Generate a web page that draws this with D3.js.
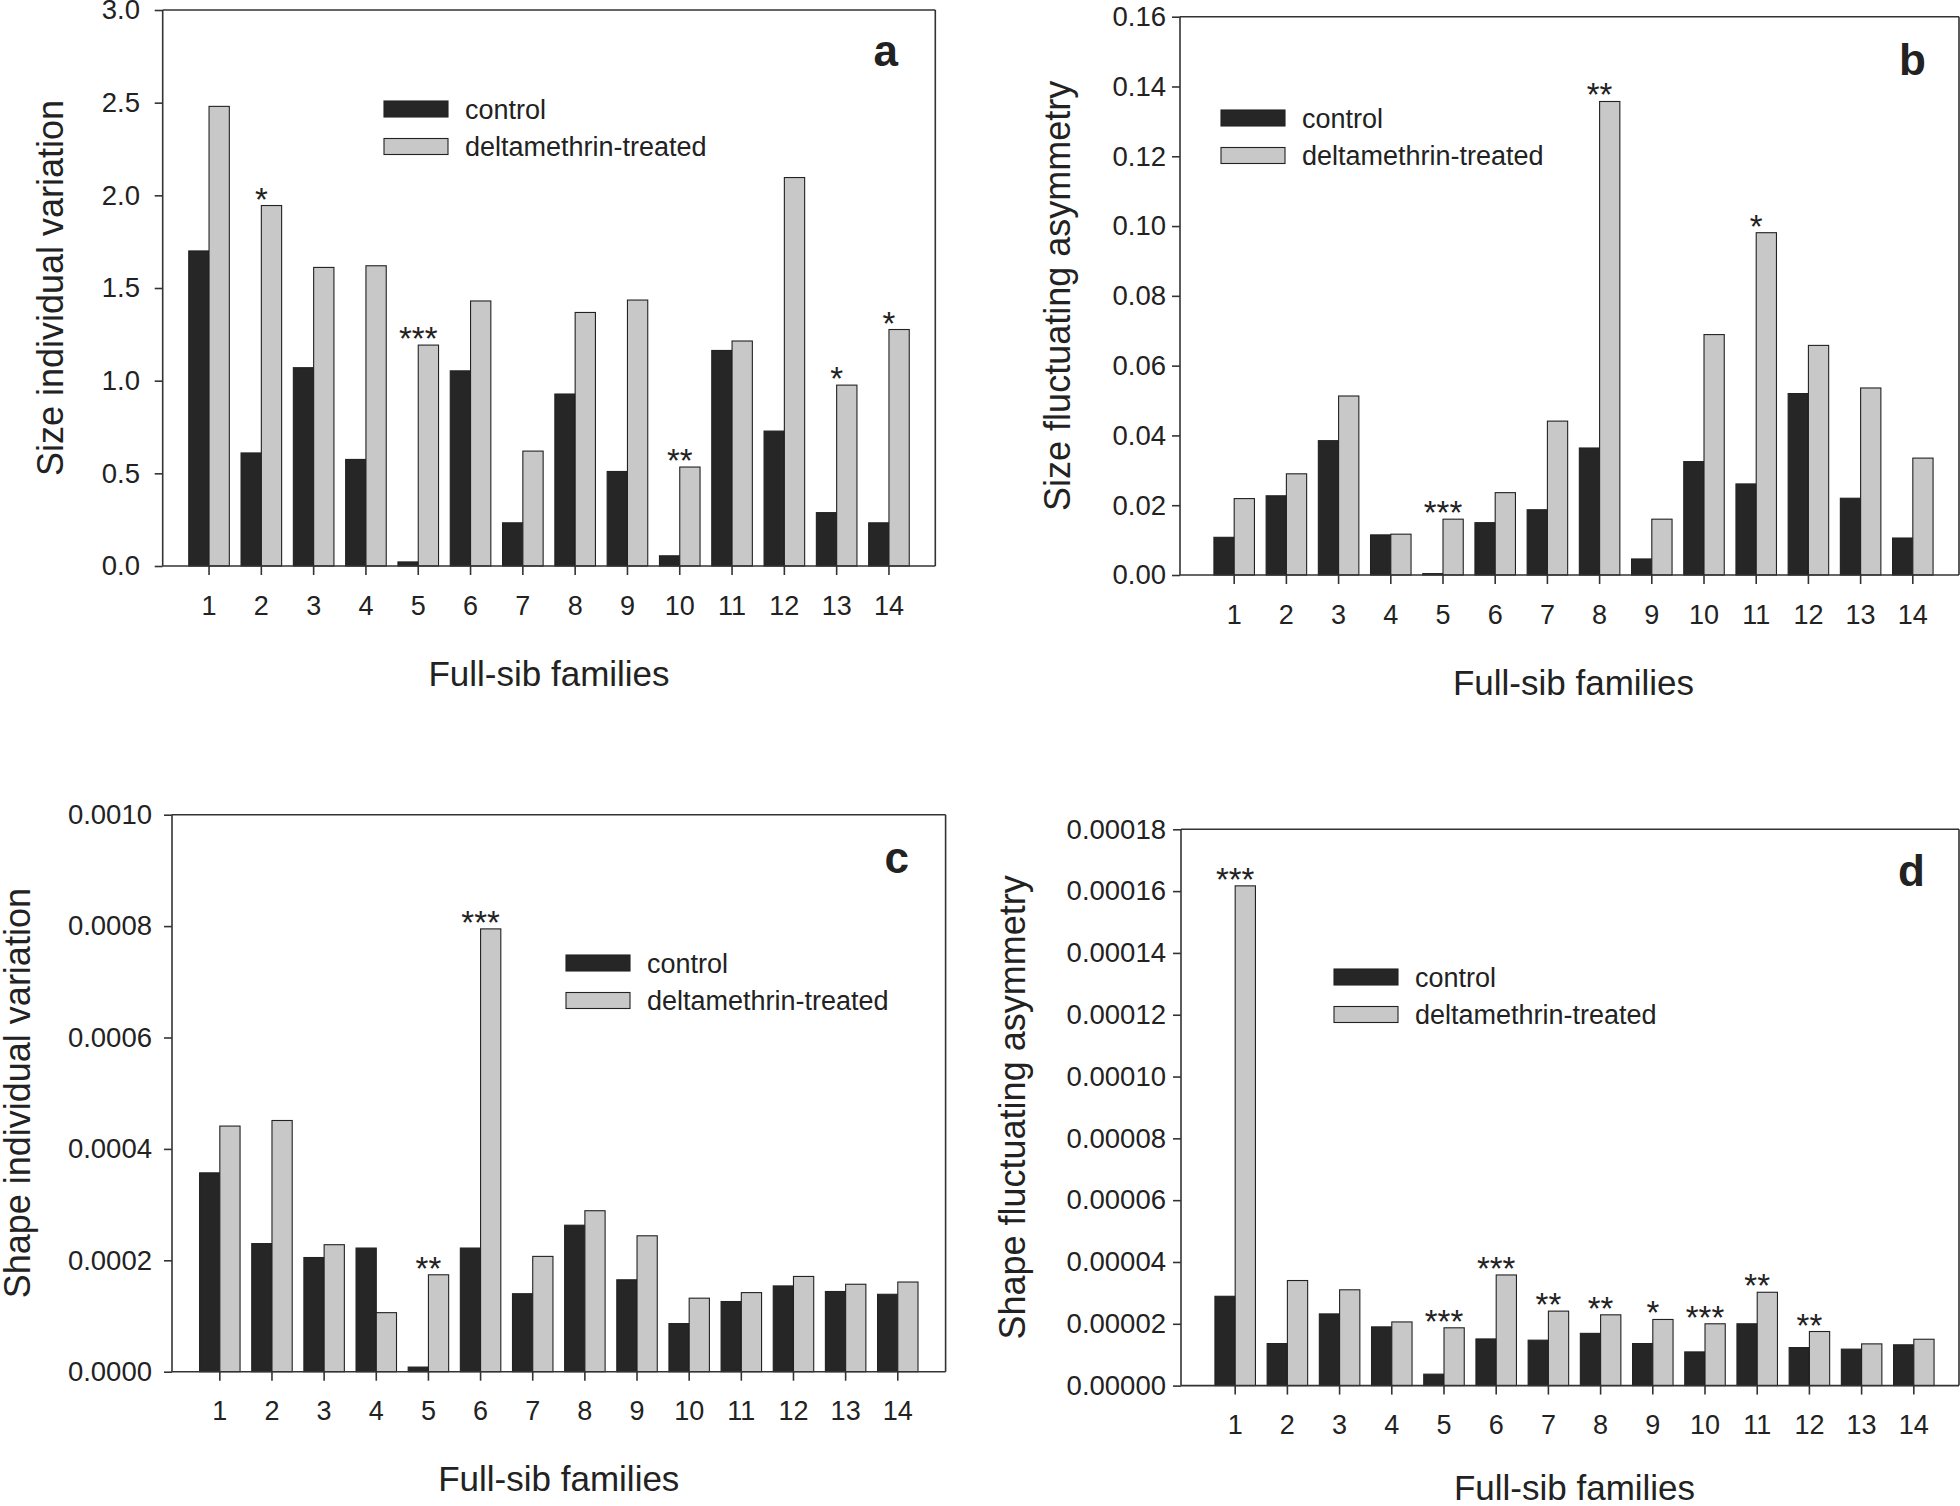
<!DOCTYPE html>
<html>
<head>
<meta charset="utf-8">
<script src="https://cdn.jsdelivr.net/npm/d3@7"></script>
<style>
  html, body { margin: 0; padding: 0; background: #fff; }
  svg { display: block; }
  text { font-family: "Liberation Sans", Arial, sans-serif; fill: #222; }
</style>
</head>
<body>
<svg id="chart" width="1960" height="1506"></svg>
<script>
// ---------------- DATA ----------------
const families = ["1","2","3","4","5","6","7","8","9","10","11","12","13","14"];
const seriesLabels = ["control", "deltamethrin-treated"];
const xTitle = "Full-sib families";

// (a) Size individual variation
const sizeIVControl = [1.70, 0.61, 1.07, 0.575, 0.022, 1.053, 0.233, 0.928, 0.51, 0.055, 1.163, 0.728, 0.288, 0.233];
const sizeIVTreated = [2.48, 1.945, 1.611, 1.62, 1.192, 1.43, 0.62, 1.368, 1.435, 0.534, 1.214, 2.096, 0.976, 1.276];
const sizeIVStars   = ["", "*", "", "", "***", "", "", "", "", "**", "", "", "*", "*"];
const sizeIVTicks   = [0, 0.5, 1.0, 1.5, 2.0, 2.5, 3.0];

// (b) Size fluctuating asymmetry
const sizeFAControl = [0.0108, 0.0227, 0.0385, 0.0115, 0.0004, 0.0150, 0.0187, 0.0364, 0.0046, 0.0325, 0.0261, 0.0520, 0.0220, 0.0106];
const sizeFATreated = [0.0219, 0.0290, 0.0513, 0.0117, 0.0160, 0.0236, 0.0441, 0.1357, 0.0160, 0.0689, 0.0981, 0.0658, 0.0536, 0.0335];
const sizeFAStars   = ["", "", "", "", "***", "", "", "**", "", "", "*", "", "", ""];
const sizeFATicks   = [0, 0.02, 0.04, 0.06, 0.08, 0.10, 0.12, 0.14, 0.16];

// (c) Shape individual variation
const shapeIVControl = [0.000357, 0.000230, 0.000205, 0.000222, 0.0000083, 0.000222, 0.000140, 0.000263, 0.000165, 0.0000864, 0.000126, 0.000154, 0.000144, 0.000139];
const shapeIVTreated = [0.000441, 0.000451, 0.000228, 0.000106, 0.000174, 0.000795, 0.000207, 0.000289, 0.000244, 0.000132, 0.000142, 0.000171, 0.000157, 0.000161];
const shapeIVStars   = ["", "", "", "", "**", "***", "", "", "", "", "", "", "", ""];
const shapeIVTicks   = [0, 0.0002, 0.0004, 0.0006, 0.0008, 0.0010];

// (d) Shape fluctuating asymmetry
const shapeFAControl = [2.89e-5, 1.36e-5, 2.32e-5, 1.90e-5, 3.7e-6, 1.51e-5, 1.47e-5, 1.69e-5, 1.36e-5, 1.09e-5, 2.00e-5, 1.23e-5, 1.18e-5, 1.32e-5];
const shapeFATreated = [1.617e-4, 3.40e-5, 3.10e-5, 2.06e-5, 1.87e-5, 3.58e-5, 2.41e-5, 2.29e-5, 2.14e-5, 2.00e-5, 3.02e-5, 1.75e-5, 1.35e-5, 1.50e-5];
const shapeFAStars   = ["***", "", "", "", "***", "***", "**", "**", "*", "***", "**", "**", "", ""];
const shapeFATicks   = [0, 0.00002, 0.00004, 0.00006, 0.00008, 0.00010, 0.00012, 0.00014, 0.00016, 0.00018];

// ---------------- LAYOUT ----------------
const panels = [
  { letter: "a", yTitle: "Size individual variation", control: sizeIVControl, treated: sizeIVTreated, stars: sizeIVStars,
    ticks: sizeIVTicks, fmt: ".1f", left: 162.7, right: 935.3, top: 10, bottom: 566, frameRight: 935.3, po: 0.498,
    tickPad: 14.7, yTitleX: 63, xTitleDy: 119.5, letterX: 898, letterY: 66, legendX: 384, legendY: 101 },
  { letter: "b", yTitle: "Size fluctuating asymmetry", control: sizeFAControl, treated: sizeFATreated, stars: sizeFAStars,
    ticks: sizeFATicks, fmt: ".2f", left: 1180, right: 1967, top: 16.7, bottom: 575, frameRight: 1959, po: 0.65,
    tickPad: 6, yTitleX: 1070, xTitleDy: 119.5, letterX: 1926, letterY: 75, legendX: 1221, legendY: 110 },
  { letter: "c", yTitle: "Shape individual variation", control: shapeIVControl, treated: shapeIVTreated, stars: shapeIVStars,
    ticks: shapeIVTicks, fmt: ".4f", left: 172, right: 945.6, top: 814.7, bottom: 1371.7, frameRight: 945.6, po: 0.529,
    tickPad: 12, yTitleX: 30, xTitleDy: 119.5, letterX: 909, letterY: 873, legendX: 566, legendY: 955 },
  { letter: "d", yTitle: "Shape fluctuating asymmetry", control: shapeFAControl, treated: shapeFATreated, stars: shapeFAStars,
    ticks: shapeFATicks, fmt: ".5f", left: 1181, right: 1968, top: 829.3, bottom: 1385.6, frameRight: 1959, po: 0.65,
    tickPad: 7, yTitleX: 1025, xTitleDy: 114, letterX: 1925, letterY: 886, legendX: 1334, legendY: 969 }
];

const colors = { control: "#262626", treated: "#c8c8c8", stroke: "#222", axis: "#333" };
const svg = d3.select("#chart");

panels.forEach(p => {
  const g = svg.append("g");
  const x0 = d3.scaleBand().domain(families).range([p.left, p.right]).paddingInner(0.224).paddingOuter(p.po);
  const x1 = d3.scaleBand().domain(["control", "treated"]).range([0, x0.bandwidth()]);
  const y = d3.scaleLinear().domain([0, p.ticks[p.ticks.length - 1]]).range([p.bottom, p.top]);

  // bars
  const rows = families.map((f, i) => ({ f, control: p.control[i], treated: p.treated[i], star: p.stars[i] }));
  ["control", "treated"].forEach(s => {
    g.append("g").selectAll("rect").data(rows).join("rect")
      .attr("x", d => x0(d.f) + x1(s))
      .attr("y", d => y(d[s]))
      .attr("width", x1.bandwidth())
      .attr("height", d => p.bottom - y(d[s]))
      .attr("fill", colors[s])
      .attr("stroke", colors.stroke)
      .attr("stroke-width", 1.1);
  });

  // significance stars
  g.append("g").selectAll("text").data(rows.filter(d => d.star)).join("text")
    .attr("x", d => x0(d.f) + x0.bandwidth() / 2)
    .attr("y", d => y(d.treated) + 5)
    .attr("text-anchor", "middle")
    .attr("font-size", 33)
    .text(d => d.star);

  // frame
  const fr = g.append("g").attr("stroke", colors.axis).attr("stroke-width", 1.6).attr("fill", "none");
  fr.append("line").attr("x1", p.left).attr("x2", p.frameRight).attr("y1", p.top).attr("y2", p.top);
  fr.append("line").attr("x1", p.frameRight).attr("x2", p.frameRight).attr("y1", p.top).attr("y2", p.bottom);

  // axes
  const xAxis = g.append("g").attr("transform", `translate(0,${p.bottom})`)
    .call(d3.axisBottom(x0).tickSize(9).tickSizeOuter(0).tickPadding(20.5));
  xAxis.select(".domain").remove();
  xAxis.selectAll("line").attr("stroke", colors.axis).attr("stroke-width", 1.6);
  xAxis.selectAll("text").attr("font-size", 27).attr("fill", "#222").attr("font-family", '"Liberation Sans", Arial, sans-serif');

  const yAxis = g.append("g").attr("transform", `translate(${p.left},0)`)
    .call(d3.axisLeft(y).tickValues(p.ticks).tickFormat(d3.format(p.fmt)).tickSize(8).tickSizeOuter(0).tickPadding(p.tickPad));
  yAxis.select(".domain").remove();
  yAxis.selectAll("line").attr("stroke", colors.axis).attr("stroke-width", 1.6);
  yAxis.selectAll("text").attr("font-size", 27.5).attr("fill", "#222").attr("font-family", '"Liberation Sans", Arial, sans-serif');

  fr.append("line").attr("x1", p.left).attr("x2", p.frameRight).attr("y1", p.bottom).attr("y2", p.bottom);
  fr.append("line").attr("x1", p.left).attr("x2", p.left).attr("y1", p.top).attr("y2", p.bottom);

  // axis titles
  g.append("text")
    .attr("x", (p.left + p.right) / 2)
    .attr("y", p.bottom + p.xTitleDy)
    .attr("text-anchor", "middle")
    .attr("font-size", 35)
    .text(xTitle);
  g.append("text")
    .attr("transform", `translate(${p.yTitleX},${(p.top + p.bottom) / 2}) rotate(-90)`)
    .attr("text-anchor", "middle")
    .attr("font-size", 36)
    .text(p.yTitle);

  // panel letter
  g.append("text")
    .attr("x", p.letterX).attr("y", p.letterY)
    .attr("text-anchor", "end")
    .attr("font-size", 44).attr("font-weight", "bold")
    .text(p.letter);

  // legend
  const lg = g.append("g");
  ["control", "treated"].forEach((s, i) => {
    const yy = p.legendY + i * 37.5;
    lg.append("rect").attr("x", p.legendX).attr("y", yy).attr("width", 64).attr("height", 16)
      .attr("fill", colors[s]).attr("stroke", colors.stroke).attr("stroke-width", 1.1);
    lg.append("text").attr("x", p.legendX + 81).attr("y", yy + 8 + 9.5)
      .attr("font-size", 27).text(seriesLabels[i]);
  });
});
</script>
</body>
</html>
